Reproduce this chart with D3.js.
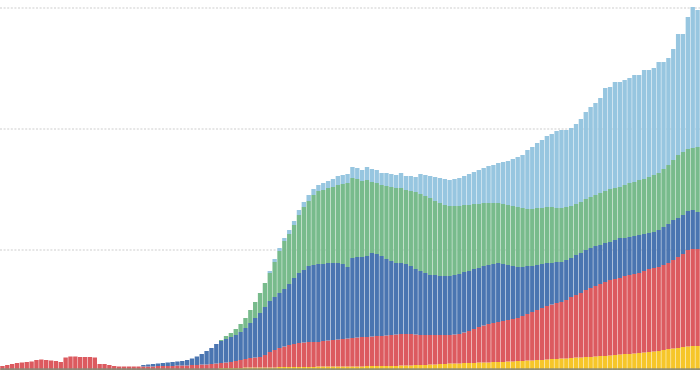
<!DOCTYPE html>
<html>
<head>
<meta charset="utf-8">
<script src="https://cdn.jsdelivr.net/npm/d3@7"></script>
<style>
html,body{margin:0;padding:0;background:#fff;overflow:hidden;}
svg{display:block;}
</style>
</head>
<body>
<svg id="chart" width="700" height="370"></svg>
<script>
// ---- DATA (monthly periods, 144 bars) ----
const periods = d3.range(144).map(i => "P" + (i + 1));
const keys = ["yellow", "red", "blue", "green", "lightblue"];
const colors = {yellow:"#f6c629", red:"#dc5a5f", blue:"#4a75b1", green:"#78bb8c", lightblue:"#97c6e0"};
const tickValues = [121, 242, 363];

const yellow = [
 0,0,0,0,0,0,0,0,0,0,
 0,0,0,0,0,0,0,0,0,0,
 0,0,0,0,0,0,0,0,0,0,
 0,0,0,0,0,0,0,0,0,0,
 0,0,0,0,0,3,3,3,3,3,
 3.5,3.5,3.5,3.5,3.5,3.5,3.5,4,4,4,
 4,4,4,4,4,4.5,4.5,4.5,4.5,4.5,
 4.5,4.5,4.5,4.5,4.5,5,5,5,5,5,
 5,5,5.5,5.5,5.5,6,6,6,6.5,6.5,
 7,7,7.5,7.5,7.5,8,8,8,8.5,8.5,
 8.5,9,9,9,9.5,9.5,10,10,10.5,10.5,
 11,11,11.5,12,12,12.5,12.5,13,13.5,13.5,
 14,14,14.5,15,15,15.5,16,16.5,17,17,
 17.5,18,18.5,19,19.5,20,21,22,22.5,23,
 24,24.5,25,25
];
const red = [
 5,6,7,8,8.5,9,9.5,11,11.5,11,
 10.5,10,9,13.5,14.5,14.5,14,14,14,13.5,
 7,7,6,5,4.5,4.5,4.5,4.5,4.5,4.5,
 4.5,4.5,5,5,5,5,5.5,5.5,5.5,6,
 6,6.5,6.5,7,7.5,5,5.5,6,7,8,
 8.5,9.5,10,10.5,12.5,15.5,17.5,19,20.5,22,
 23,24,24.5,25,25,24.5,25.5,26,26.5,27,
 27.5,28,28.5,29,29.5,29,29.5,30,30,30.5,
 31,31.5,31.5,31.5,31.5,30.5,30,30,29.5,29.5,
 29,29,28.5,29,29.5,30.5,32,34,35.5,37,
 38.5,39,40,41,41.5,42.5,43,45,46.5,48.5,
 50,52,53.5,54.5,56,56.5,58.5,61,62.5,64.5,
 67,69,70.5,72,74,75.5,76,76.5,78,79,
 79.5,80,81.5,83,83.5,84,85,86,88.5,91,
 93,96.5,97,97
];
const blue = [
 0,0,0,0,0,0,0,0,0,0,
 0,0,0,0,0,0,0,0,0,0,
 0,0,0,0,0,0,0,0,0,1.5,
 2,2.5,2.5,3,3.5,4,4,4.5,5.5,6.5,
 8.5,10.5,13.5,16,19.5,22,23.5,25,26,28,
 31,35,39.5,44,48,51,53,55,57.5,61,
 66,70,72.5,76,77,78,77,77.5,77,76.5,
 75,71.5,80,80.5,80,81,83.5,82,80,76.5,
 74,71.5,71,70,68,65.5,64,62,60,60,
 59,59,59,59.5,60,60.5,60,60,59,59.5,
 59,59,59,57,55,53,51,49,48,46,
 45,44,43,41.5,41,40,40,39,40,40,
 40,40,40,39,39,38,39,40,38,38,
 38,38,37,36,36,37,38,39,40,39,
 39,39,39,37
];
const green = [
 0,0,0,0,0,0,0,0,0,0,
 0,0,0,0,0,0,0,0,0,0,
 0,0,0,0,0,0,0,0,0,0,
 0,0,0,0,0,0,0,0,0,0,
 0,0,0,0,0,1,3,4,6,8,
 10,13,16,20,24,28,35,42,48,50,
 53,58,63,65,70,73,74,75,76,78,
 80,84,80,78,76,76,71,71,71,73,
 74,75,75,74,75,77,77,77,77,74,
 73,71,70,69,68,67,66,65,64,63,
 62,61,60,60,60,60,60,59,57,57,
 57,56,56,56,54,54,53,52,51,51,
 51,51,51,52,52,53,52,51,53,54,
 54,55,55,56,57,57,58,59,60,63,
 63,62,62,65
];
const lightblue = [
 0,0,0,0,0,0,0,0,0,0,
 0,0,0,0,0,0,0,0,0,0,
 0,0,0,0,0,0,0,0,0,0,
 0,0,0,0,0,0,0,0,0,0,
 0,0,0,0,0,0,0,0,0,0,
 0,0,0,0,0,2,3,3,3,4,
 4,5,5,6,6,6,7,7,8,9,
 9,9,11,11,11,13,13,13,12,13,
 13,13,15,14,15,15,20,21,22,24,
 25,26,26,27,28,29,31,32,34,35,
 37,38,40,42,44,47,50,53,59,62,
 65,68,71,73,77,78,77,78,80,83,
 87,90,92,95,103,102,106,105,105,105,
 107,105,109,107,107,111,107,107,111,121,
 118,132,141,137
];

// ---- BUILD ----
const table = periods.map((p, i) => ({
  period: p, yellow: yellow[i], red: red[i], blue: blue[i], green: green[i], lightblue: lightblue[i]
}));

const W = 700, H = 370;
const svg = d3.select("#chart");

const x = d3.scaleBand().domain(periods).range([0, W]).paddingInner(0.1).paddingOuter(0.05);
const y = d3.scaleLinear().domain([0, 363]).range([371, 8]);

// gridlines
const grid = svg.append("g").attr("class", "grid");
grid.selectAll("line").data(tickValues).join("line")
  .attr("x1", 0).attr("x2", W)
  .attr("y1", d => y(d)).attr("y2", d => y(d))
  .attr("stroke", "#dedede").attr("stroke-width", 1.5)
  .attr("stroke-dasharray", "2,1.6");

const series = d3.stack().keys(keys)(table);

svg.append("g").selectAll("g").data(series).join("g")
  .attr("fill", d => colors[d.key])
  .selectAll("rect").data(d => d).join("rect")
  .attr("x", d => x(d.data.period))
  .attr("width", x.bandwidth())
  .attr("y", d => y(d[1]))
  .attr("height", d => Math.max(0, y(d[0]) - y(d[1])));

// bottom axis line
const axis = d3.axisBottom(x).tickValues([]).tickSizeOuter(0);
const ax = svg.append("g").attr("transform", `translate(0,${y(0) - 2})`).call(axis);
ax.select(".domain").attr("stroke", "#8a8a78").attr("stroke-width", 2.5).attr("stroke-opacity", 0.9);
</script>
</body>
</html>
